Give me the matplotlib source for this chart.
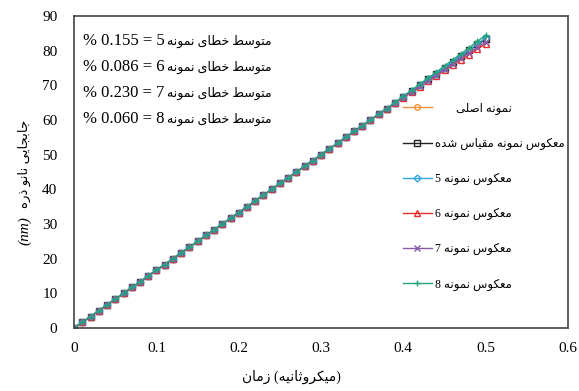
import matplotlib
matplotlib.use("Agg")
import matplotlib.pyplot as plt

plt.rcParams['font.family'] = ['Liberation Serif', 'DejaVu Sans']

# --- minimal Arabic/Persian shaping (matplotlib has no bidi/shaping) ---
FORMS = {
    'ا': ('\uFE8D', '\uFE8E', None, None),
    'ب': ('\uFE8F', '\uFE90', '\uFE91', '\uFE92'),
    'ت': ('\uFE95', '\uFE96', '\uFE97', '\uFE98'),
    'ث': ('\uFE99', '\uFE9A', '\uFE9B', '\uFE9C'),
    'ج': ('\uFE9D', '\uFE9E', '\uFE9F', '\uFEA0'),
    'خ': ('\uFEA5', '\uFEA6', '\uFEA7', '\uFEA8'),
    'د': ('\uFEA9', '\uFEAA', None, None),
    'ذ': ('\uFEAB', '\uFEAC', None, None),
    'ر': ('\uFEAD', '\uFEAE', None, None),
    'ز': ('\uFEAF', '\uFEB0', None, None),
    'س': ('\uFEB1', '\uFEB2', '\uFEB3', '\uFEB4'),
    'ش': ('\uFEB5', '\uFEB6', '\uFEB7', '\uFEB8'),
    'ص': ('\uFEB9', '\uFEBA', '\uFEBB', '\uFEBC'),
    'ط': ('\uFEC1', '\uFEC2', '\uFEC3', '\uFEC4'),
    'ع': ('\uFEC9', '\uFECA', '\uFECB', '\uFECC'),
    'ق': ('\uFED5', '\uFED6', '\uFED7', '\uFED8'),
    'ل': ('\uFEDD', '\uFEDE', '\uFEDF', '\uFEE0'),
    'م': ('\uFEE1', '\uFEE2', '\uFEE3', '\uFEE4'),
    'ن': ('\uFEE5', '\uFEE6', '\uFEE7', '\uFEE8'),
    'ه': ('\uFEE9', '\uFEEA', '\uFEEB', '\uFEEC'),
    'و': ('\uFEED', '\uFEEE', None, None),
    'ی': ('\uFBFC', '\uFBFD', '\uFBFE', '\uFBFF'),
    'ک': ('\uFB8E', '\uFB8F', '\uFB90', '\uFB91'),
}


def rtl(text):
    out = []
    for i, ch in enumerate(text):
        if ch not in FORMS:
            out.append(ch)
            continue
        prev = text[i - 1] if i > 0 else ''
        nxt = text[i + 1] if i + 1 < len(text) else ''
        joins_prev = prev in FORMS and FORMS[prev][2] is not None
        joins_next = FORMS[ch][2] is not None and nxt in FORMS
        iso, fin, ini, med = FORMS[ch]
        if joins_prev and joins_next:
            out.append(med)
        elif joins_prev:
            out.append(fin)
        elif joins_next:
            out.append(ini)
        else:
            out.append(iso)
    return ''.join(reversed(out))


# --- data ---
time_us = [0.00, 0.01, 0.02, 0.03, 0.04, 0.05, 0.06, 0.07, 0.08, 0.09,
           0.10, 0.11, 0.12, 0.13, 0.14, 0.15, 0.16, 0.17, 0.18, 0.19,
           0.20, 0.21, 0.22, 0.23, 0.24, 0.25, 0.26, 0.27, 0.28, 0.29,
           0.30, 0.31, 0.32, 0.33, 0.34, 0.35, 0.36, 0.37, 0.38, 0.39,
           0.40, 0.41, 0.42, 0.43, 0.44, 0.45, 0.46, 0.47, 0.48, 0.49, 0.50]

common = [0.0, 1.7, 3.3, 5.0, 6.7, 8.3, 10.0, 11.7, 13.3, 15.0,
          16.7, 18.3, 20.0, 21.7, 23.3, 25.0, 26.7, 28.3, 30.0, 31.7,
          33.3, 35.0, 36.7, 38.3, 40.0, 41.7, 43.3, 45.0, 46.7, 48.3,
          50.0, 51.7, 53.3, 55.0, 56.7, 58.3, 60.0, 61.7, 63.3]

original = common + [65.0, 66.7, 68.3, 70.0, 71.7, 73.3, 75.0, 76.7, 78.3, 80.0, 81.7, 83.3]
scaled = common + [65.0, 66.7, 68.3, 70.0, 71.7, 73.4, 75.1, 76.8, 78.5, 80.2, 81.8, 83.5]
sample5 = common + [65.0, 66.7, 68.4, 70.1, 71.8, 73.4, 75.1, 76.8, 78.5, 80.2, 81.9, 83.7]
sample6 = common + [64.9, 66.5, 68.0, 69.6, 71.2, 72.7, 74.3, 75.9, 77.4, 78.9, 80.5, 82.0]
sample7 = common + [64.9, 66.6, 68.2, 69.8, 71.4, 73.0, 74.6, 76.2, 77.8, 79.4, 81.0, 82.6]
sample8 = common + [65.1, 66.9, 68.6, 70.4, 72.1, 73.8, 75.6, 77.4, 79.1, 80.9, 82.7, 84.5]

labels = [
    '       ' + rtl('نمونه اصلی'),
    rtl('معکوس نمونه مقیاس شده'),
    '5 ' + rtl('معکوس نمونه'),
    '6 ' + rtl('معکوس نمونه'),
    '7 ' + rtl('معکوس نمونه'),
    '8 ' + rtl('معکوس نمونه'),
]
errors = ['0.155', '0.086', '0.230', '0.060']
error_ids = ['5', '6', '7', '8']
x_ticks = [0, 0.1, 0.2, 0.3, 0.4, 0.5, 0.6]
x_tick_labels = ['0', '0.1', '0.2', '0.3', '0.4', '0.5', '0.6']
y_ticks = [0, 10, 20, 30, 40, 50, 60, 70, 80, 90]

fig = plt.figure(figsize=(5.79, 3.91), dpi=100)
ax = fig.add_axes([0.128, 0.161, 0.853, 0.798])

ax.plot(time_us, original, color='#F0913A', marker='o', ms=4, mfc='none', lw=1, label=labels[0])
ax.plot(time_us, scaled, color='#222222', marker='s', ms=4, mfc='none', lw=1, label=labels[1])
ax.plot(time_us, sample5, color='#2FA8DC', marker='D', ms=3.5, mfc='none', lw=1, label=labels[2])
ax.plot(time_us, sample6, color='#E53030', marker='^', ms=4.5, mfc='none', lw=1, label=labels[3])
ax.plot(time_us, sample7, color='#8A5BAA', marker='x', ms=4, lw=1, label=labels[4])
ax.plot(time_us, sample8, color='#22A57A', marker='+', ms=5, lw=1, label=labels[5])

ax.set_xlim(0, 0.6)
ax.set_ylim(0, 90)
ax.set_xticks(x_ticks)
ax.set_xticklabels(x_tick_labels)
ax.set_yticks(y_ticks)
ax.tick_params(length=0, labelsize=11)
ax.tick_params(axis='x', pad=10)
ax.tick_params(axis='y', pad=12)
for s in ax.spines.values():
    s.set_color('#444444')
    s.set_linewidth(1.2)

ax.set_xlabel(rtl('زمان') + ' (' + rtl('میکروثانیه') + ')', fontsize=10)
ax.xaxis.set_label_coords(0.44, -0.135)

# y label: Persian part plus italic (nm)
fig.text(0.042, 0.373, '(nm)', rotation=90, ha='center', va='bottom', fontsize=11,
         style='italic')
fig.text(0.042, 0.467, rtl('جابجایی نانو ذره'), rotation=90, ha='center', va='bottom',
         fontsize=9.5)

for i, (e, k) in enumerate(zip(errors, error_ids)):
    y = 0.919 - i * 0.083
    ax.text(0.018, y, '% ' + e + ' = ' + k, transform=ax.transAxes, fontsize=12,
            va='center', ha='left')
    ax.text(0.400, y, rtl('متوسط خطای نمونه'), transform=ax.transAxes, fontsize=9,
            va='center', ha='right')

ax.legend(loc='upper left', bbox_to_anchor=(0.645, 0.757), frameon=False, fontsize=8.5,
          labelspacing=1.95, handlelength=2.4, handletextpad=0.3)

fig.savefig('out.png', dpi=100)
